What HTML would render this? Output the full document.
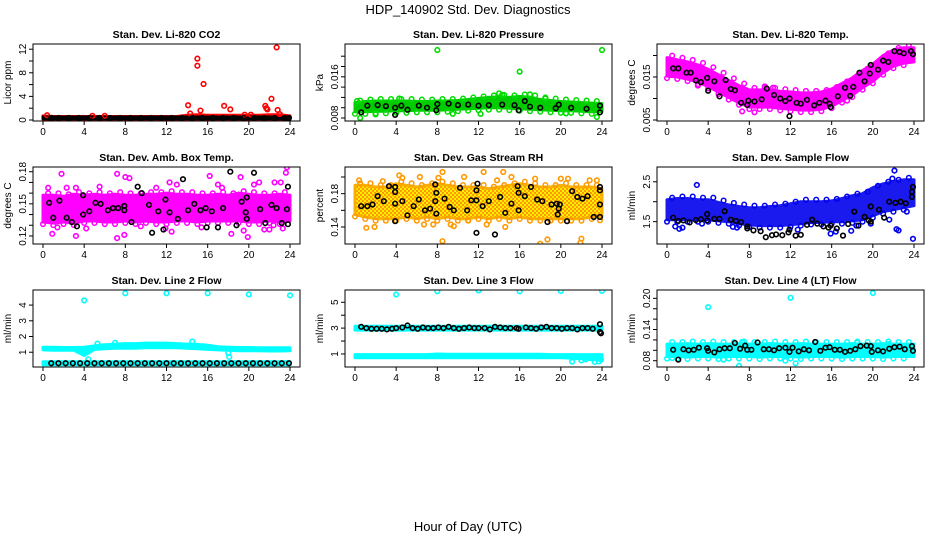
<!DOCTYPE html>
<html><head><meta charset="utf-8"><style>
html,body{margin:0;padding:0;background:#fff;}
svg{display:block;font-family:"Liberation Sans",sans-serif;}
</style></head><body>
<svg id="chart" width="936" height="540" viewBox="0 0 936 540" xmlns="http://www.w3.org/2000/svg">
<rect width="936" height="540" fill="#fff"/>
<text x="468" y="14" text-anchor="middle" font-size="13">HDP_140902  Std. Dev. Diagnostics</text>
<text x="468" y="531" text-anchor="middle" font-size="13">Hour of Day (UTC)</text>
</svg>
<script>
const HOURS=[0,1,2,3,4,5,6,7,8,9,10,11,12,13,14,15,16,17,18,19,20,21,22,23,24];
const X_TICKS=[0,4,8,12,16,20,24];

// Panel 1 CO2
const co2Lo=[0.1,0.1,0.1,0.1,0.1,0.1,0.1,0.1,0.1,0.1,0.1,0.1,0.1,0.1,0.1,0.1,0.1,0.1,0.1,0.1,0.1,0.1,0.1,0.1,0.1];
const co2Hi=[0.7,0.6,0.6,0.6,0.6,0.6,0.6,0.6,0.6,0.6,0.6,0.6,0.6,0.6,0.8,0.9,0.8,0.8,0.8,0.8,0.8,0.8,0.9,0.9,0.7];
const co2Out=[[14.1,2.5],[14.3,1.1],[15.0,10.4],[15.0,9.2],[15.3,1.6],[15.6,6.1],[17.6,2.4],[18.2,1.8],[19.6,0.9],[20.2,0.9],[21.6,2.4],[21.7,2.0],[21.8,1.8],[22.2,3.6],[22.7,12.3],[22.8,1.7],[23.0,1.0],[0.4,0.8],[4.8,0.7],[6,0.7]];
const co2Black=[[0.8,0.35],[1.5,0.35],[2.5,0.35],[3.5,0.35],[4.5,0.35],[5.5,0.35],[6.5,0.35],[7.5,0.35],[8.5,0.35],[9.5,0.35],[10.5,0.35],[11.5,0.35],[12.5,0.35],[13.5,0.35],[14.5,0.35],[15.5,0.35],[16.5,0.35],[17.5,0.35],[18.5,0.35],[19.5,0.35],[20.5,0.35],[21.5,0.35],[22.5,0.35],[23.5,0.35],[23.9,0.35]];

// Panel 2 Pressure
const presLo=[0.0092,0.0092,0.0093,0.0093,0.0094,0.0094,0.0095,0.0095,0.0095,0.0096,0.0097,0.0098,0.0099,0.0100,0.0100,0.0099,0.0098,0.0097,0.0096,0.0095,0.0094,0.0094,0.0093,0.0092,0.0092];
const presHi=[0.0110,0.0112,0.0113,0.0113,0.0113,0.0113,0.0112,0.0112,0.0113,0.0113,0.0114,0.0116,0.0118,0.0120,0.0121,0.0120,0.0122,0.0120,0.0116,0.0114,0.0112,0.0111,0.0110,0.0109,0.0108];
const presOut=[[8,0.0212],[24,0.0212],[16,0.0170],[14,0.0128],[14.3,0.0125],[0.5,0.0080],[23.5,0.0082],[17,0.0126],[4.3,0.0118],[0.2,0.0113],[9.5,0.0088],[2,0.0087],[12.2,0.0088],[20.5,0.0089],[18.5,0.0118]];
const presBlack=[[0.6,0.0091],[1.2,0.0104],[2.2,0.0105],[3,0.0103],[3.9,0.0100],[3.9,0.0086],[4.5,0.0104],[5.1,0.0096],[6.2,0.0104],[7,0.0100],[7.9,0.0095],[8,0.0107],[9.1,0.0108],[10,0.0105],[11,0.0106],[12,0.0104],[13,0.0105],[14.3,0.0106],[15.5,0.0105],[15.9,0.0095],[16.5,0.0113],[17,0.0102],[18,0.0100],[19.5,0.0099],[19.8,0.0106],[21,0.0100],[22.5,0.0098],[23.8,0.0104],[23.8,0.0091]];

// Panel 3 Temp
const tempLo=[0.0152,0.0150,0.0145,0.0138,0.0128,0.0115,0.0102,0.0090,0.0080,0.0080,0.0080,0.0077,0.0075,0.0073,0.0073,0.0075,0.0082,0.0095,0.0108,0.0125,0.0140,0.0160,0.0175,0.0182,0.0185];
const tempHi=[0.0195,0.0190,0.0185,0.0178,0.0168,0.0155,0.0142,0.0130,0.0120,0.0120,0.0120,0.0117,0.0115,0.0113,0.0113,0.0115,0.0122,0.0135,0.0148,0.0165,0.0180,0.0200,0.0213,0.0218,0.0218];
const tempOut=[[0.3,0.0190],[7.3,0.0070],[8.5,0.0068],[9.5,0.0128],[10.3,0.0125],[17.5,0.0095],[21,0.0195],[3,0.0130]];
const tempBlack=[[0.6,0.0170],[1.1,0.0170],[1.9,0.0160],[2.3,0.0160],[2.8,0.0142],[3.3,0.0138],[3.9,0.0148],[4,0.0118],[4.6,0.0140],[5.1,0.0105],[5.7,0.0143],[6.2,0.0122],[6.6,0.0119],[7.2,0.0090],[7.8,0.0085],[7.9,0.0095],[8.5,0.0093],[9.2,0.0098],[9.7,0.0123],[10.4,0.0108],[11,0.0100],[11.5,0.0094],[11.9,0.0100],[11.9,0.0059],[12.6,0.0090],[13,0.0088],[13.6,0.0097],[14.3,0.0084],[14.8,0.0090],[15.4,0.0095],[15.8,0.0088],[15.9,0.0080],[16.6,0.0105],[17.3,0.0125],[17.8,0.0106],[18.1,0.0127],[18.7,0.0160],[19.2,0.0140],[19.7,0.0158],[19.8,0.0178],[20.5,0.0167],[21,0.0188],[21.5,0.0185],[22.1,0.0210],[22.6,0.0208],[23,0.0205],[23.7,0.0210],[23.9,0.0203]];

// Panel 4 Amb box temp
const ambLo=[0.133,0.132,0.133,0.132,0.134,0.134,0.133,0.133,0.134,0.133,0.134,0.133,0.133,0.134,0.134,0.133,0.134,0.134,0.134,0.134,0.133,0.133,0.134,0.133,0.134];
const ambHi=[0.158,0.158,0.157,0.159,0.158,0.159,0.158,0.159,0.158,0.158,0.159,0.159,0.160,0.159,0.159,0.158,0.158,0.159,0.158,0.160,0.159,0.158,0.158,0.159,0.158];
const ambOut=[[0.5,0.165],[1.8,0.178],[2.3,0.165],[0.9,0.122],[1.4,0.128],[3.2,0.120],[3.2,0.165],[4.2,0.127],[5.5,0.166],[7.2,0.178],[7.2,0.118],[7.9,0.121],[8.0,0.175],[8.4,0.174],[9.5,0.129],[11,0.165],[11.9,0.127],[12.3,0.170],[12.5,0.124],[13,0.168],[15.4,0.128],[16.2,0.176],[17,0.168],[17.4,0.165],[19.2,0.175],[19.5,0.125],[20.5,0.168],[21,0.170],[19.9,0.119],[21.5,0.126],[22.5,0.170],[23.1,0.170],[23.6,0.179],[23.7,0.184],[23.3,0.127],[22.4,0.130],[22,0.126],[18.3,0.122],[0.2,0.140]];
const ambBlack=[[0.6,0.151],[1,0.137],[1.6,0.153],[2.3,0.137],[2.8,0.133],[3.3,0.129],[3.9,0.140],[3.9,0.158],[4.5,0.143],[5.1,0.151],[5.6,0.150],[6.3,0.144],[6.8,0.146],[7.3,0.146],[7.9,0.148],[7.9,0.144],[8.6,0.133],[9.2,0.166],[9.6,0.160],[10.3,0.149],[10.6,0.123],[11.2,0.143],[11.7,0.126],[11.9,0.154],[12.3,0.142],[13.1,0.136],[13.6,0.173],[14.1,0.144],[14.7,0.150],[15.3,0.144],[15.8,0.146],[15.9,0.128],[16.4,0.143],[17,0.128],[17.5,0.146],[18.2,0.180],[18.8,0.130],[19.3,0.152],[19.7,0.142],[19.8,0.156],[19.8,0.136],[20.5,0.179],[21.1,0.145],[21.6,0.132],[22.2,0.149],[22.7,0.146],[23.2,0.132],[23.7,0.145],[23.8,0.131],[23.8,0.166]];

// Panel 5 Gas stream RH
const rhLo=[0.155,0.152,0.150,0.150,0.150,0.152,0.150,0.152,0.150,0.152,0.150,0.150,0.152,0.150,0.152,0.150,0.152,0.150,0.150,0.150,0.150,0.150,0.150,0.152,0.152];
const rhHi=[0.190,0.190,0.188,0.188,0.192,0.190,0.188,0.190,0.192,0.190,0.188,0.188,0.188,0.186,0.188,0.190,0.192,0.190,0.188,0.188,0.190,0.188,0.188,0.188,0.186];
const rhOut=[[0.4,0.196],[1.1,0.139],[1.9,0.140],[2.7,0.195],[4.3,0.202],[4.6,0.199],[6.3,0.200],[6.7,0.143],[7.6,0.143],[8.1,0.199],[8.5,0.206],[8.5,0.123],[9.6,0.141],[9.3,0.143],[10.6,0.200],[11,0.148],[12.5,0.206],[13.8,0.196],[14.4,0.206],[14.6,0.140],[15.2,0.200],[17.5,0.198],[18,0.120],[18.7,0.125],[20,0.198],[20.7,0.198],[21.9,0.121],[22,0.126],[22.8,0.196],[23.5,0.196],[23.8,0.148],[12.8,0.143]];
const rhBlack=[[0.6,0.165],[1.2,0.165],[1.7,0.167],[2.2,0.177],[2.8,0.171],[3.3,0.189],[3.9,0.188],[3.9,0.182],[3.9,0.168],[3.9,0.147],[4.6,0.171],[5.1,0.154],[5.7,0.165],[6.2,0.173],[6.8,0.160],[7.3,0.162],[7.8,0.191],[7.9,0.181],[7.8,0.171],[7.9,0.156],[8.7,0.174],[9.2,0.164],[9.6,0.160],[10.2,0.187],[10.9,0.160],[11.3,0.172],[11.8,0.172],[11.9,0.192],[11.8,0.184],[11.8,0.133],[12.4,0.165],[13,0.171],[13.6,0.131],[14.1,0.176],[14.6,0.157],[15.2,0.168],[15.8,0.189],[15.9,0.181],[15.9,0.160],[16.5,0.177],[17.1,0.188],[17.7,0.173],[18.2,0.171],[18.7,0.146],[19.1,0.167],[19.6,0.168],[19.7,0.155],[19.9,0.167],[19.8,0.162],[20.6,0.147],[21.1,0.183],[21.6,0.176],[22.1,0.174],[22.6,0.177],[23.2,0.152],[23.8,0.188],[23.8,0.184],[23.8,0.167],[23.8,0.152]];

// Panel 6 Sample flow
const flowLo=[1.55,1.55,1.55,1.55,1.55,1.52,1.50,1.45,1.42,1.40,1.40,1.40,1.42,1.45,1.48,1.48,1.50,1.50,1.52,1.55,1.65,1.75,1.80,1.85,1.90];
const flowHi=[2.05,2.08,2.08,2.05,2.05,1.98,1.92,1.88,1.85,1.85,1.88,1.90,1.95,2.00,2.00,2.00,2.02,2.08,2.15,2.20,2.35,2.45,2.50,2.55,2.55];
const flowOut=[[2.9,2.42],[0.8,1.38],[1.2,1.32],[1.5,1.35],[6.4,1.37],[6.8,1.35],[3.4,1.45],[12.7,1.30],[15.9,1.20],[22.1,2.78],[21.9,2.58],[22.3,1.31],[22.5,1.28],[23.9,1.07],[23.3,1.75],[19.8,1.45],[18.4,1.40],[17.9,1.27],[16.4,1.25],[21.6,1.55]];
const flowBlack=[[0.6,1.60],[1.1,1.52],[1.6,1.53],[2.2,1.48],[2.8,1.54],[3.3,1.56],[3.9,1.53],[3.9,1.69],[4.6,1.57],[5.1,1.57],[5.6,1.76],[6.2,1.55],[6.7,1.52],[7.2,1.49],[7.8,1.38],[7.8,1.33],[8.4,1.28],[9.1,1.26],[9.6,1.11],[10.2,1.16],[10.6,1.18],[11.2,1.16],[11.8,1.23],[11.9,1.30],[12.5,1.15],[13,1.17],[13.6,1.42],[14.1,1.55],[14.6,1.45],[15.2,1.38],[15.7,1.35],[15.9,1.40],[16.5,1.33],[17.1,1.15],[17.6,1.44],[18.2,1.75],[18.6,1.40],[19.2,1.62],[19.6,1.53],[19.8,1.50],[19.8,1.88],[20.6,1.80],[21.1,1.60],[21.6,2.00],[22.2,1.97],[22.7,2.00],[23.2,1.96],[23.8,2.25],[23.8,2.12],[23.9,2.37]];

// Panel 7 Line 2 flow
const l2Lo=[1.15,1.12,1.12,1.12,0.80,1.18,1.22,1.25,1.25,1.25,1.28,1.28,1.28,1.28,1.25,1.22,1.18,1.15,1.12,1.10,1.10,1.10,1.08,1.08,1.10];
const l2Hi=[1.32,1.32,1.30,1.30,1.32,1.40,1.48,1.52,1.55,1.55,1.58,1.58,1.58,1.55,1.52,1.50,1.45,1.35,1.32,1.30,1.30,1.28,1.28,1.28,1.28];
const l2Out=[[4,4.3],[8,4.75],[12,4.75],[16,4.75],[20,4.68],[24,4.62],[4.4,0.55],[18.1,0.70],[18.0,0.95],[5.3,1.55],[7,1.6],[14.5,1.68]];
const l2BottomLo=[0.20,0.20,0.20,0.20,0.20,0.20,0.20,0.20,0.20,0.20,0.20,0.20,0.20,0.20,0.20,0.20,0.20,0.20,0.20,0.20,0.20,0.20,0.20,0.20,0.20];
const l2BottomHi=[0.40,0.40,0.40,0.40,0.40,0.40,0.40,0.40,0.40,0.40,0.40,0.40,0.40,0.40,0.40,0.40,0.40,0.40,0.40,0.40,0.40,0.40,0.40,0.40,0.40];
const l2Black=[[0.8,0.3],[1.5,0.3],[2.2,0.3],[2.9,0.3],[3.6,0.3],[4.3,0.3],[5,0.3],[5.7,0.3],[6.4,0.3],[7.1,0.3],[7.8,0.3],[8.5,0.3],[9.2,0.3],[9.9,0.3],[10.6,0.3],[11.3,0.3],[12,0.3],[12.7,0.3],[13.4,0.3],[14.1,0.3],[14.8,0.3],[15.5,0.3],[16.2,0.3],[16.9,0.3],[17.6,0.3],[18.3,0.3],[19,0.3],[19.7,0.3],[20.4,0.3],[21.1,0.3],[21.8,0.3],[22.5,0.3],[23.2,0.3],[23.9,0.3]];

// Panel 8 Line 3 flow
const l3Lo=[2.85,2.85,2.85,2.85,2.85,2.85,2.85,2.85,2.85,2.85,2.85,2.85,2.85,2.85,2.85,2.85,2.85,2.85,2.85,2.85,2.85,2.85,2.85,2.85,2.85];
const l3Hi=[3.15,3.15,3.15,3.15,3.15,3.15,3.15,3.15,3.15,3.15,3.15,3.15,3.15,3.15,3.15,3.15,3.15,3.15,3.15,3.15,3.15,3.15,3.15,3.15,3.15];
const l3BottomLo=[0.70,0.70,0.70,0.70,0.70,0.70,0.70,0.70,0.70,0.70,0.70,0.70,0.70,0.70,0.70,0.70,0.70,0.70,0.70,0.70,0.70,0.68,0.62,0.55,0.55];
const l3BottomHi=[0.95,0.95,0.95,0.95,0.95,0.95,0.95,0.95,1.00,0.98,0.98,0.98,0.98,0.98,0.98,0.98,0.98,0.98,0.98,0.95,0.95,0.95,0.95,0.95,0.95];
const l3Out=[[4,5.6],[8,5.85],[12,5.92],[16,5.85],[20,5.88],[24,5.88],[21.1,0.40],[22,0.50],[22.4,0.58],[23.3,0.38],[23.7,0.42],[23.9,0.55]];
const l3Black=[[0.6,3.1],[1.1,3.0],[1.6,2.95],[2.1,2.95],[2.6,2.95],[3.1,2.9],[3.6,2.95],[4,3.0],[4.6,3.05],[5.1,3.2],[5.6,3.0],[6.1,2.95],[6.6,3.05],[7.1,3.0],[7.6,3.0],[8.1,3.05],[8.6,3.0],[9.1,3.1],[9.6,3.0],[10.1,2.95],[10.6,3.0],[11.1,3.05],[11.6,3.0],[12,3.0],[12.6,3.0],[13.1,2.9],[13.6,3.1],[14.1,3.05],[14.6,3.0],[15.1,3.0],[15.7,3.0],[15.9,2.95],[16.6,3.05],[17.1,3.0],[17.6,2.95],[18.1,3.05],[18.6,3.1],[19.1,3.0],[19.6,3.0],[20.1,2.95],[20.6,3.0],[21.1,3.0],[21.6,2.9],[22.1,3.0],[22.6,3.0],[23.1,2.95],[23.8,3.3],[23.8,2.7],[23.9,2.6]];

// Panel 9 Line 4 flow
const l4Lo=[0.088,0.088,0.087,0.088,0.088,0.087,0.088,0.088,0.088,0.087,0.088,0.088,0.088,0.087,0.088,0.088,0.088,0.087,0.088,0.088,0.088,0.087,0.088,0.088,0.088];
const l4Hi=[0.112,0.112,0.113,0.112,0.113,0.112,0.112,0.113,0.112,0.112,0.113,0.112,0.112,0.113,0.112,0.112,0.112,0.112,0.113,0.112,0.112,0.113,0.112,0.112,0.112];
const l4Out=[[4,0.183],[12,0.201],[20,0.210],[7,0.070],[1,0.109],[7.3,0.116],[5.5,0.082],[0.5,0.085],[11.5,0.080],[12.5,0.075],[18.5,0.115],[21.5,0.112]];
const l4Black=[[0.6,0.101],[1.1,0.082],[1.6,0.102],[2.1,0.100],[2.6,0.101],[3.1,0.105],[3.9,0.104],[4,0.099],[4.6,0.096],[5.1,0.102],[5.6,0.104],[6.1,0.104],[6.6,0.114],[7.1,0.103],[7.6,0.109],[7.8,0.101],[8.2,0.101],[8.8,0.115],[9.4,0.102],[9.9,0.102],[10.4,0.100],[10.9,0.104],[11.5,0.105],[11.9,0.097],[12.2,0.105],[12.8,0.098],[13.3,0.102],[13.8,0.100],[14.4,0.116],[14.9,0.099],[15.4,0.105],[15.8,0.106],[16.3,0.101],[16.8,0.101],[17.3,0.097],[17.8,0.099],[18.3,0.102],[18.8,0.108],[19.4,0.109],[19.8,0.108],[19.9,0.097],[20.5,0.100],[21,0.098],[21.6,0.103],[22.1,0.106],[22.6,0.107],[23.1,0.102],[23.8,0.108],[23.9,0.099]];

const panels=[
 {title:"Stan. Dev. Li-820 CO2",ylab:"Licor ppm",ymin:-0.17,ymax:12.88,ticks:[0,2,4,6,8,10,12],labels:[0,4,8,12],dec:0,col:"#ff0000",bands:[[co2Lo,co2Hi,"#ff0000"],[co2Lo.map(()=>0.22),co2Hi.map(()=>0.5),"#000"]],out:co2Out,blk:co2Black},
 {title:"Stan. Dev. Li-820 Pressure",ylab:"kPa",ymin:0.00742,ymax:0.02237,ticks:[0.008,0.010,0.012,0.014,0.016,0.018,0.020],labels:[0.008,0.016],dec:3,col:"#00dd00",bands:[[presLo,presHi,"#00cc00"]],out:presOut,blk:presBlack,fuzz:true},
 {title:"Stan. Dev. Li-820 Temp.",ylab:"degrees C",ymin:0.00477,ymax:0.02267,ticks:[0.005,0.010,0.015,0.020],labels:[0.005,0.015],dec:3,col:"#ff00ff",bands:[[tempLo,tempHi,"#ff00ff"]],out:tempOut,blk:tempBlack,fuzz:true},
 {title:"Stan. Dev. Amb. Box Temp.",ylab:"degrees C",ymin:0.1125,ymax:0.1844,ticks:[0.12,0.13,0.14,0.15,0.16,0.17,0.18],labels:[0.12,0.15,0.18],dec:2,col:"#ff00ff",bands:[[ambLo,ambHi,"#ff00ff"]],out:ambOut,blk:ambBlack,fuzz:true},
 {title:"Stan. Dev. Gas Stream RH",ylab:"percent",ymin:0.1196,ymax:0.212,ticks:[0.14,0.16,0.18,0.20],labels:[0.14,0.18],dec:2,col:"#ff9900",bands:[[rhLo,rhHi,"#f7b000"]],out:rhOut,blk:rhBlack,pattern:true,fuzz:true},
 {title:"Stan. Dev. Sample Flow",ylab:"ml/min",ymin:0.94,ymax:2.87,ticks:[1.5,2.0,2.5],labels:[1.5,2.5],dec:1,col:"#0000ee",bands:[[flowLo,flowHi,"#1a1aee"]],out:flowOut,blk:flowBlack,fuzz:true},
 {title:"Stan. Dev. Line 2 Flow",ylab:"ml/min",ymin:0.06,ymax:4.96,ticks:[1,2,3,4],labels:[1,2,3,4],dec:0,col:"#00ffff",bands:[[l2Lo,l2Hi,"#00ffff"],[l2BottomLo,l2BottomHi,"#00ffff"]],out:l2Out,blk:l2Black},
 {title:"Stan. Dev. Line 3 Flow",ylab:"ml/min",ymin:-0.01,ymax:5.95,ticks:[1,2,3,4,5],labels:[1,3,5],dec:0,col:"#00ffff",bands:[[l3Lo,l3Hi,"#00ffff"],[l3BottomLo,l3BottomHi,"#00ffff"]],out:l3Out,blk:l3Black},
 {title:"Stan. Dev. Line 4 (LT) Flow",ylab:"ml/min",ymin:0.0679,ymax:0.216,ticks:[0.08,0.10,0.12,0.14,0.16,0.18,0.20],labels:[0.08,0.14,0.20],dec:2,col:"#00ffff",bands:[[l4Lo,l4Hi,"#00ffff"]],out:l4Out,blk:l4Black,fuzz:true}
];

const NS="http://www.w3.org/2000/svg";
const svg=document.getElementById('chart');
function mk(tag,attrs,parent){const e=document.createElementNS(NS,tag);for(const k in attrs)e.setAttribute(k,attrs[k]);(parent||svg).appendChild(e);return e;}

const defs=mk('defs',{});
const pat=mk('pattern',{id:'rhpat',width:'4',height:'4',patternUnits:'userSpaceOnUse'},defs);
mk('rect',{width:'4',height:'4',fill:'#ff9900'},pat);
mk('rect',{width:'2',height:'2',fill:'#ffee00'},pat);
mk('rect',{x:'2',y:'2',width:'2',height:'2',fill:'#ffee00'},pat);

const BOX_W=267,BOX_H=77;
panels.forEach((p,i)=>{
  const c=i%3,r=Math.floor(i/3);
  const L=33+312*c,T=44+123*r,B=T+BOX_H;
  const xs=h=>L+10+h*(247/24);
  const ys=v=>B-(v-p.ymin)/(p.ymax-p.ymin)*BOX_H;
  const g=mk('g',{});
  
  
  const clip=mk('clipPath',{id:'clip'+i},defs);
  mk('rect',{x:L,y:T,width:BOX_W,height:BOX_H},clip);
  const plot=mk('g',{'clip-path':'url(#clip'+i+')'},g);
  p.bands.forEach((bd,bi)=>{
    const lo=bd[0],hi=bd[1];
    let d='';
    HOURS.forEach((h,k)=>{d+=(k?'L':'M')+xs(h).toFixed(1)+','+ys(hi[k]).toFixed(1);});
    for(let k=HOURS.length-1;k>=0;k--)d+='L'+xs(HOURS[k]).toFixed(1)+','+ys(lo[k]).toFixed(1);
    d+='Z';
    const fill=(p.pattern&&bi===0)?'url(#rhpat)':bd[2];
    const band=mk('path',{d:d,fill:fill,stroke:bd[2],'stroke-width':'3','stroke-linejoin':'round'},plot);
    
    
    if(p.fuzz){
      // edge points along band envelope (half-hour steps)
      for(let k=0;k<HOURS.length-1;k++){
        const hm=(HOURS[k]+HOURS[k+1])/2;
        const e1=mk('circle',{cx:xs(hm),cy:ys(hi[k])-2,r:2.3,fill:'none',stroke:p.col,'stroke-width':'1.5'},plot);
        
        
        const e2=mk('circle',{cx:xs(HOURS[k]),cy:ys(lo[k])+2,r:2.3,fill:'none',stroke:p.col,'stroke-width':'1.5'},plot);
        
        
      }
    }
  });
  p.out.forEach(pt=>{
    const ci=mk('circle',{cx:xs(pt[0]),cy:ys(pt[1]),r:2.3,fill:'none',stroke:p.col,'stroke-width':'1.6'},plot);
    
    
  });
  p.blk.forEach(pt=>{
    const ci=mk('circle',{cx:xs(pt[0]),cy:ys(pt[1]),r:2.3,fill:'none',stroke:'#000','stroke-width':'1.6'},plot);
    
    
  });
  const box=mk('rect',{x:L,y:T,width:BOX_W,height:BOX_H,fill:'none',stroke:'#000','stroke-width':'1'},g);
  
  
  const t=mk('text',{x:L+BOX_W/2,y:T-6,'text-anchor':'middle','font-size':'10.5','font-weight':'bold'},g);
  t.textContent=p.title;
  
  
  const xa=mk('g',{},g);
  
  
  mk('line',{x1:xs(0),x2:xs(24),y1:B,y2:B,stroke:'#000'},xa);
  X_TICKS.forEach(h=>{
    mk('line',{x1:xs(h),x2:xs(h),y1:B,y2:B+4,stroke:'#000'},xa);
    const tl=mk('text',{x:xs(h),y:B+14,'text-anchor':'middle','font-size':'10'},xa);
    tl.textContent=h;
    
    
  });
  const ya=mk('g',{},g);
  
  
  const tk=p.ticks;
  mk('line',{x1:L,x2:L,y1:ys(tk[0]),y2:ys(tk[tk.length-1]),stroke:'#000'},ya);
  tk.forEach(v=>{mk('line',{x1:L-4,x2:L,y1:ys(v),y2:ys(v),stroke:'#000'},ya);});
  p.labels.forEach(v=>{
    const yy=ys(v),xx=L-7;
    const tl=mk('text',{x:xx,y:yy,'text-anchor':'middle','font-size':'10',transform:'rotate(-90 '+xx+' '+yy+')'},ya);
    tl.textContent=v.toFixed(p.dec);
    
    
  });
  const yx=L-22,yy=T+BOX_H/2;
  const yl=mk('text',{x:yx,y:yy,'text-anchor':'middle','font-size':'10',transform:'rotate(-90 '+yx+' '+yy+')'},g);
  yl.textContent=p.ylab;
  
  
});
</script>
</body></html>
